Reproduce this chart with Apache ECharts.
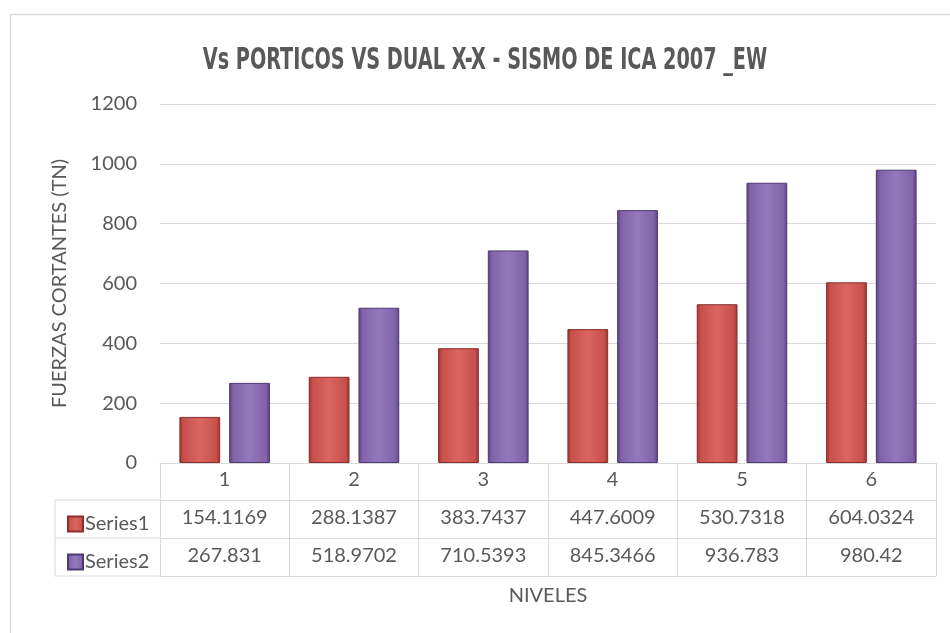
<!DOCTYPE html>
<html>
<head>
<meta charset="utf-8">
<title>Vs PORTICOS VS DUAL X-X</title>
<script src="https://cdn.jsdelivr.net/npm/echarts@6/dist/echarts.min.js"></script>
<style>
  html, body { margin: 0; padding: 0; background: #fff; }
  #chart { width: 950px; height: 633px; }
</style>
</head>
<body>
<div id="chart"></div>
<script>
const categories = ['1', '2', '3', '4', '5', '6'];
const series1 = [154.1169, 288.1387, 383.7437, 447.6009, 530.7318, 604.0324];
const series2 = [267.831, 518.9702, 710.5393, 845.3466, 936.783, 980.42];
const yTicks = { min: 0, max: 1200, interval: 200 };

const titleText = 'Vs PORTICOS VS DUAL X-X - SISMO DE ICA 2007 _EW';
const txt = '#595959';
const line = '#d9d9d9';
const font = 'Lato';

// barra con efecto bisel (como Excel)
function bevel (dark, mid, light) {
  return new echarts.graphic.LinearGradient(0, 0, 1, 0, [
    { offset: 0, color: dark },
    { offset: 0.1, color: mid },
    { offset: 0.5, color: light },
    { offset: 0.9, color: mid },
    { offset: 1, color: dark }
  ]);
}

const chart = echarts.init(document.getElementById('chart'));

chart.setOption({
  backgroundColor: '#fff',
  animation: false,
  legend: {
    orient: 'vertical',
    left: 62,
    top: 509,
    icon: 'rect',
    itemWidth: 15,
    itemHeight: 15,
    itemGap: 18,
    textStyle: { fontFamily: font, fontSize: 20, color: txt, padding: [0, 0, 0, -3] },
    data: ['Series1', 'Series2']
  },
  grid: { left: 160, right: 14, top: 104, bottom: 170 },
  xAxis: [
    {
      type: 'category',
      data: categories,
      axisLine: { show: true, lineStyle: { color: line } },
      axisTick: { show: true, length: 113, lineStyle: { color: line } },
      axisLabel: { margin: 7, fontFamily: font, fontSize: 20, color: txt }
    },
    {
      type: 'category',
      position: 'bottom',
      offset: 37,
      data: series1.map(String),
      axisLine: { show: true, lineStyle: { color: line } },
      axisTick: { show: false },
      axisLabel: { margin: 8, fontFamily: font, fontSize: 20, color: txt }
    },
    {
      type: 'category',
      position: 'bottom',
      offset: 75,
      data: series2.map(String),
      axisLine: { show: true, lineStyle: { color: line } },
      axisTick: { show: false },
      axisLabel: { margin: 8, fontFamily: font, fontSize: 20, color: txt }
    },
    {
      type: 'category',
      position: 'bottom',
      offset: 113,
      data: categories,
      axisLine: { show: true, lineStyle: { color: line } },
      axisTick: { show: false },
      axisLabel: { show: false },
      name: 'NIVELES',
      nameLocation: 'middle',
      nameGap: 10,
      nameTextStyle: { fontFamily: font, fontSize: 20, color: txt, verticalAlign: 'top' }
    }
  ],
  yAxis: {
    type: 'value',
    min: yTicks.min,
    max: yTicks.max,
    interval: yTicks.interval,
    name: 'FUERZAS CORTANTES (TN)',
    nameLocation: 'middle',
    nameGap: 90,
    nameTextStyle: { fontFamily: font, fontSize: 20, color: txt },
    axisLine: { show: false },
    axisTick: { show: false },
    axisLabel: { margin: 23, fontFamily: font, fontSize: 20, color: txt, formatter: v => String(v) },
    splitLine: { lineStyle: { color: line } }
  },
  series: [
    {
      name: 'Series1',
      type: 'bar',
      data: series1,
      barGap: '22%',
      barCategoryGap: '30%',
      itemStyle: {
        color: bevel('#9b3330', '#c9504c', '#d96561'),
        borderColor: '#8a2e2b',
        borderWidth: 1
      }
    },
    {
      name: 'Series2',
      type: 'bar',
      data: series2,
      barGap: '22%',
      barCategoryGap: '30%',
      itemStyle: {
        color: bevel('#5b4180', '#8163aa', '#9478bd'),
        borderColor: '#4f3a70',
        borderWidth: 1
      }
    }
  ],
  graphic: [
    // marco del gráfico
    { type: 'rect', shape: { x: 10.5, y: 14.5, width: 960, height: 660 }, style: { fill: null, stroke: line, lineWidth: 1.5 }, silent: true },
    // título condensado (fuente tipo Agency FB)
    {
      type: 'text',
      x: 485,
      y: 61,
      scaleX: 0.69,
      style: {
        text: titleText,
        fill: txt,
        font: "bold 31px 'DejaVu Sans Condensed', sans-serif",
        align: 'center',
        verticalAlign: 'middle'
      }
    },
    // celdas de la leyenda en la tabla de datos
    { type: 'line', shape: { x1: 55, y1: 500, x2: 160, y2: 500 }, style: { stroke: line, lineWidth: 1 } },
    { type: 'line', shape: { x1: 55, y1: 538, x2: 160, y2: 538 }, style: { stroke: line, lineWidth: 1 } },
    { type: 'line', shape: { x1: 55, y1: 576, x2: 160, y2: 576 }, style: { stroke: line, lineWidth: 1 } },
    { type: 'line', shape: { x1: 55, y1: 500, x2: 55, y2: 576 }, style: { stroke: line, lineWidth: 1 } }
  ]
});
</script>
</body>
</html>
